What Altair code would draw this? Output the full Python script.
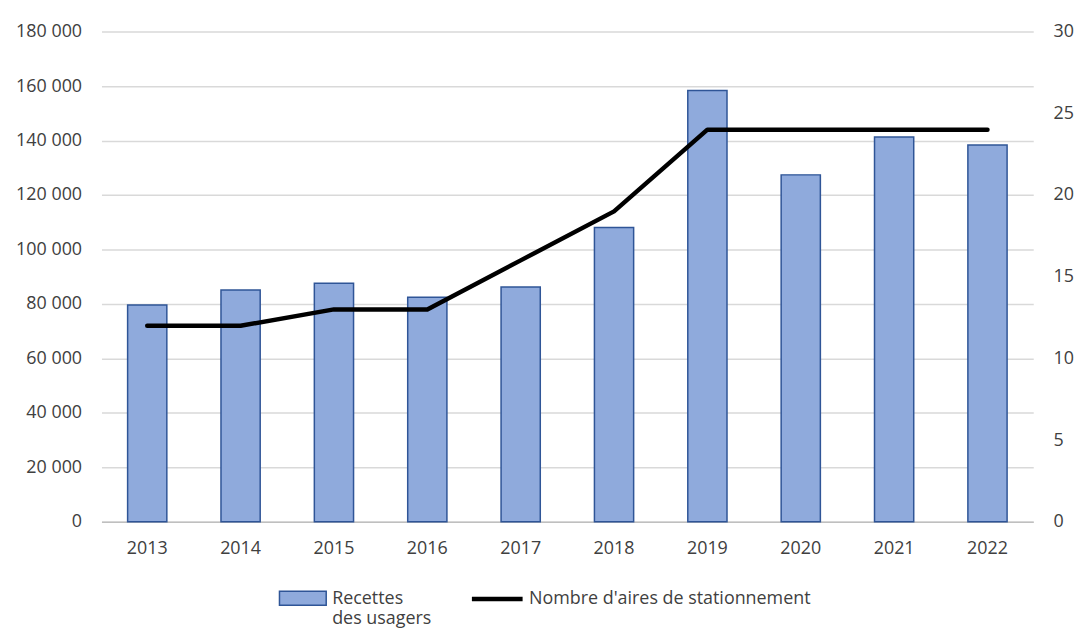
import altair as alt
import pandas as pd

years = ["2013", "2014", "2015", "2016", "2017", "2018", "2019", "2020", "2021", "2022"]
recettes = [79600, 85100, 87600, 82500, 86200, 108100, 158400, 127400, 141300, 138400]
aires = [12, 12, 13, 13, 16, 19, 24, 24, 24, 24]

bar_name = "Recettes des usagers"
line_name = "Nombre d'aires de stationnement"

df = pd.DataFrame({"year": years, "recettes": recettes, "aires": aires,
                   "s1": bar_name, "s2": line_name})

FONT = "Open Sans"
TXT = "#404040"
FS = 18

x = alt.X("year:N", title=None, scale=alt.Scale(paddingInner=0.58, paddingOuter=0.28),
          axis=alt.Axis(labelAngle=0, labelFontSize=FS, labelColor=TXT, labelFont=FONT,
                        ticks=False, domainColor="#BFBFBF", domainWidth=1.5, labelPadding=18))

bars = alt.Chart(df).mark_bar(stroke="#2F5597", strokeWidth=1.5).encode(
    x=x,
    y=alt.Y("recettes:Q", title=None,
            scale=alt.Scale(domain=[0, 180000], nice=False),
            axis=alt.Axis(values=list(range(0, 180001, 20000)), ticks=False, domain=False,
                          labelFontSize=FS, labelColor=TXT, labelFont=FONT,
                          labelPadding=20, gridColor="#D9D9D9", gridWidth=1.5,
                          labelExpr="replace(format(datum.value, ','), ',', ' ')")),
    fill=alt.Fill("s1:N", scale=alt.Scale(domain=[bar_name], range=["#8FAADC"]),
                  legend=alt.Legend(title=None, orient="none", legendX=191.5, legendY=551,
                                    symbolType="M-2.35,0.08H2.35V1.48H-2.35Z", symbolSize=400,
                                    symbolStrokeColor="#2F5597", symbolStrokeWidth=1.5,
                                    labelFontSize=FS, labelFont=FONT, labelColor=TXT,
                                    labelOffset=18.5, labelLimit=300,
                                    labelExpr="datum.label == 'Recettes des usagers' ? ['Recettes', 'des usagers'] : datum.label",
                                    labelBaseline="top")),
)

line = alt.Chart(df).mark_line(strokeWidth=4.5, color="black", strokeCap="round",
                               strokeJoin="round").encode(
    x=x,
    y=alt.Y("aires:Q", title=None,
            scale=alt.Scale(domain=[0, 30], nice=False),
            axis=alt.Axis(orient="right", values=[0, 5, 10, 15, 20, 25, 30], ticks=False,
                          domain=False, grid=False, labelFontSize=FS, labelColor=TXT,
                          labelFont=FONT, labelPadding=20)),
    stroke=alt.Stroke("s2:N", scale=alt.Scale(domain=[line_name], range=["black"]),
                      legend=alt.Legend(title=None, orient="none", legendX=370, legendY=542.5,
                                        symbolType="stroke", symbolSize=2601, symbolStrokeWidth=4.5,
                                        labelFontSize=FS, labelFont=FONT, labelColor=TXT,
                                        labelOffset=4, labelLimit=400)),
)

chart = alt.layer(bars, line).resolve_scale(y="independent", fill="independent",
                                            stroke="independent").properties(
    width=937, height=493,
    background="white",
    autosize=alt.AutoSizeParams(type="none"),
    padding={"top": 22, "left": 94, "right": 42, "bottom": 106}
).configure_view(strokeWidth=0, stroke="transparent")

chart.save("out.html", embed_options={"renderer": "svg", "actions": False})
